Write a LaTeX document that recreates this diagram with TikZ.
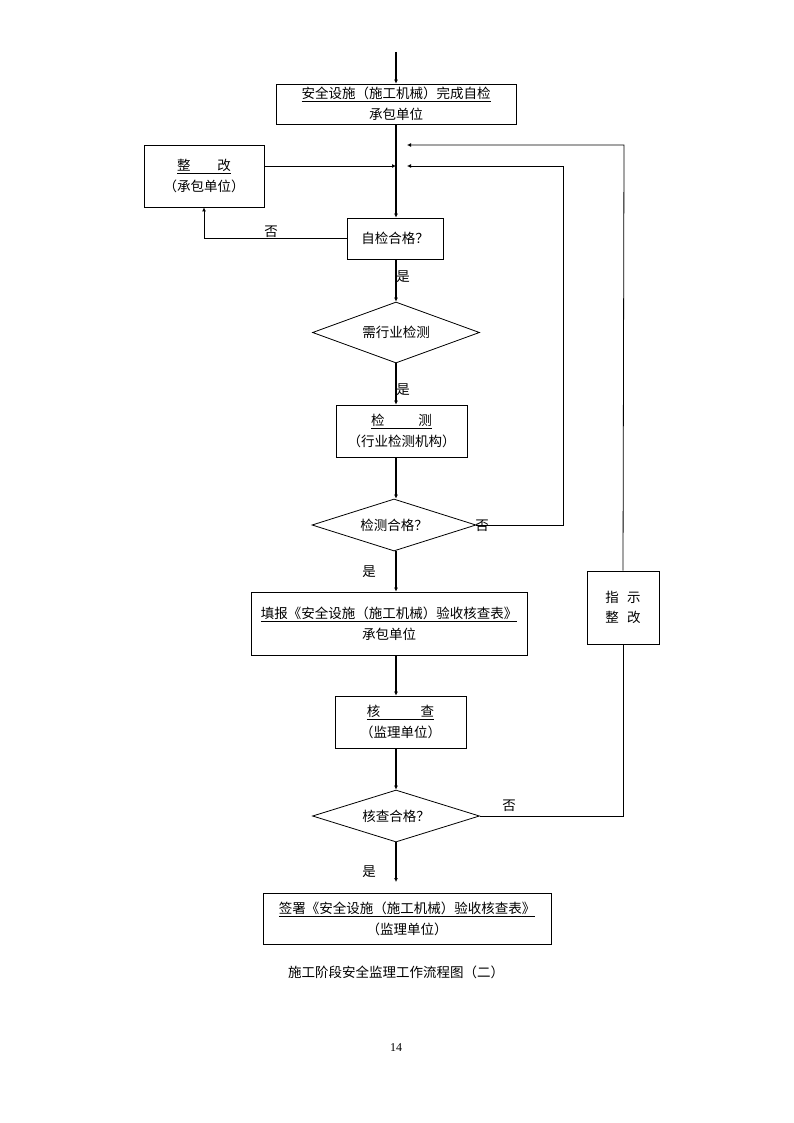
\documentclass[tikz,border=0pt]{standalone}
\usepackage{fontspec}
\setmainfont{Noto Sans CJK SC}
\newfontfamily\numfont{Liberation Serif}
\usetikzlibrary{shapes.geometric,arrows.meta}
\begin{document}
\begin{tikzpicture}[x=1pt,y=-1pt,
 box/.style={draw,line width=0.8pt,inner sep=0pt,align=center,font=\fontsize{13.5}{21}\selectfont},
 dia/.style={draw,diamond,aspect=2.7,line width=0.8pt,inner sep=0pt,minimum width=167,minimum height=61,font=\fontsize{13.5}{16}\selectfont},
 main/.style={line width=1.8pt,-{Latex[length=4pt,width=4pt]}},
 thin/.style={line width=0.8pt,-{Latex[length=4pt,width=4pt]}},
 plain/.style={line width=0.8pt},
 lbl/.style={font=\fontsize{13.5}{16}\selectfont,inner sep=0pt}]
\useasboundingbox (0,0) rectangle (794,1123);

\node[box,minimum width=240,minimum height=40] (b1) at (396,104) {\underline{安全设施（施工机械）完成自检}\\承包单位};
\node[box,minimum width=120,minimum height=62] (zg) at (204,176) {\underline{整\hspace{2em}改}\\（承包单位）};
\node[box,minimum width=96,minimum height=41] (q1) at (395,238.5) {自检合格？};
\node[dia] (d1) at (396,332.5) {需行业检测};
\node[box,minimum width=131,minimum height=52] (jc) at (401.5,431) {\underline{检\hspace{2.5em}测}\\（行业检测机构）};
\node[dia,minimum width=164,minimum height=52] (d2) at (394,525) {检测合格？};
\node[box,minimum width=276,minimum height=63] (tb) at (389,623.5) {\underline{填报《安全设施（施工机械）验收核查表》}\\承包单位};
\node[box,minimum width=131,minimum height=52] (hc) at (400.5,722) {\underline{核\hspace{3em}查}\\（监理单位）};
\node[dia,minimum height=52] (d3) at (396,816) {核查合格？};
\node[box,minimum width=288,minimum height=51] (qs) at (407,918.5) {\underline{签署《安全设施（施工机械）验收核查表》}\\（监理单位）};
\node[box,minimum width=72,minimum height=73] (zs) at (623,607.5) {指\hspace{0.6em}示\\[-1pt]整\hspace{0.6em}改};

\node[lbl] (l1) at (271,232) {否};
\node[lbl] (l2) at (403,277) {是};
\node[lbl] (l3) at (403,390) {是};
\node[lbl] (l4) at (482,526) {否};
\node[lbl] (l5) at (369,572) {是};
\node[lbl] (l6) at (509,806) {否};
\node[lbl] (l7) at (369,872) {是};

\node[font=\fontsize{13.5}{16}\selectfont,inner sep=0pt] (cap) at (396,972) {施工阶段安全监理工作流程图（二）};
\node[font=\numfont\fontsize{12}{14}\selectfont,inner sep=0pt] (pg) at (396,1048) {14};

\coordinate (top) at (396,52);
\coordinate (j1) at (396,166);
\coordinate (r1) at (407,145);
\coordinate (r2) at (407,166);
\coordinate (c2) at (563,166);
\coordinate (c3) at (624,145);
\coordinate (fin) at (396,882);

\draw[main] (top) -- (b1.north);
\draw[main] (b1.south) -- (b1.south |- q1.north);
\draw[thin] (zg.east |- j1) -- (j1);
\draw[thin] (q1.west) -| (zg.south);
\draw[main] (b1.south |- q1.south) -- (d1.north);
\draw[main] (d1.south) -- (d1.south |- jc.north);
\draw[main] (d1.south |- jc.south) -- (d1.south |- d2.north);
\draw[thin] (d2.east) -- (d2.east -| c2) -- (c2) -- (r2);
\draw[main] (d1.south |- d2.south) -- (d1.south |- tb.north);
\draw[main] (d1.south |- tb.south) -- (d1.south |- hc.north);
\draw[main] (d1.south |- hc.south) -- (d3.north);
\draw[plain] (d3.east) -- (d3.east -| zs.south) -- (zs.south);
\draw[thin] (zs.north) -- (c3) -- (r1);
\draw[main] (d3.south) -- (fin);
\end{tikzpicture}
\end{document}
